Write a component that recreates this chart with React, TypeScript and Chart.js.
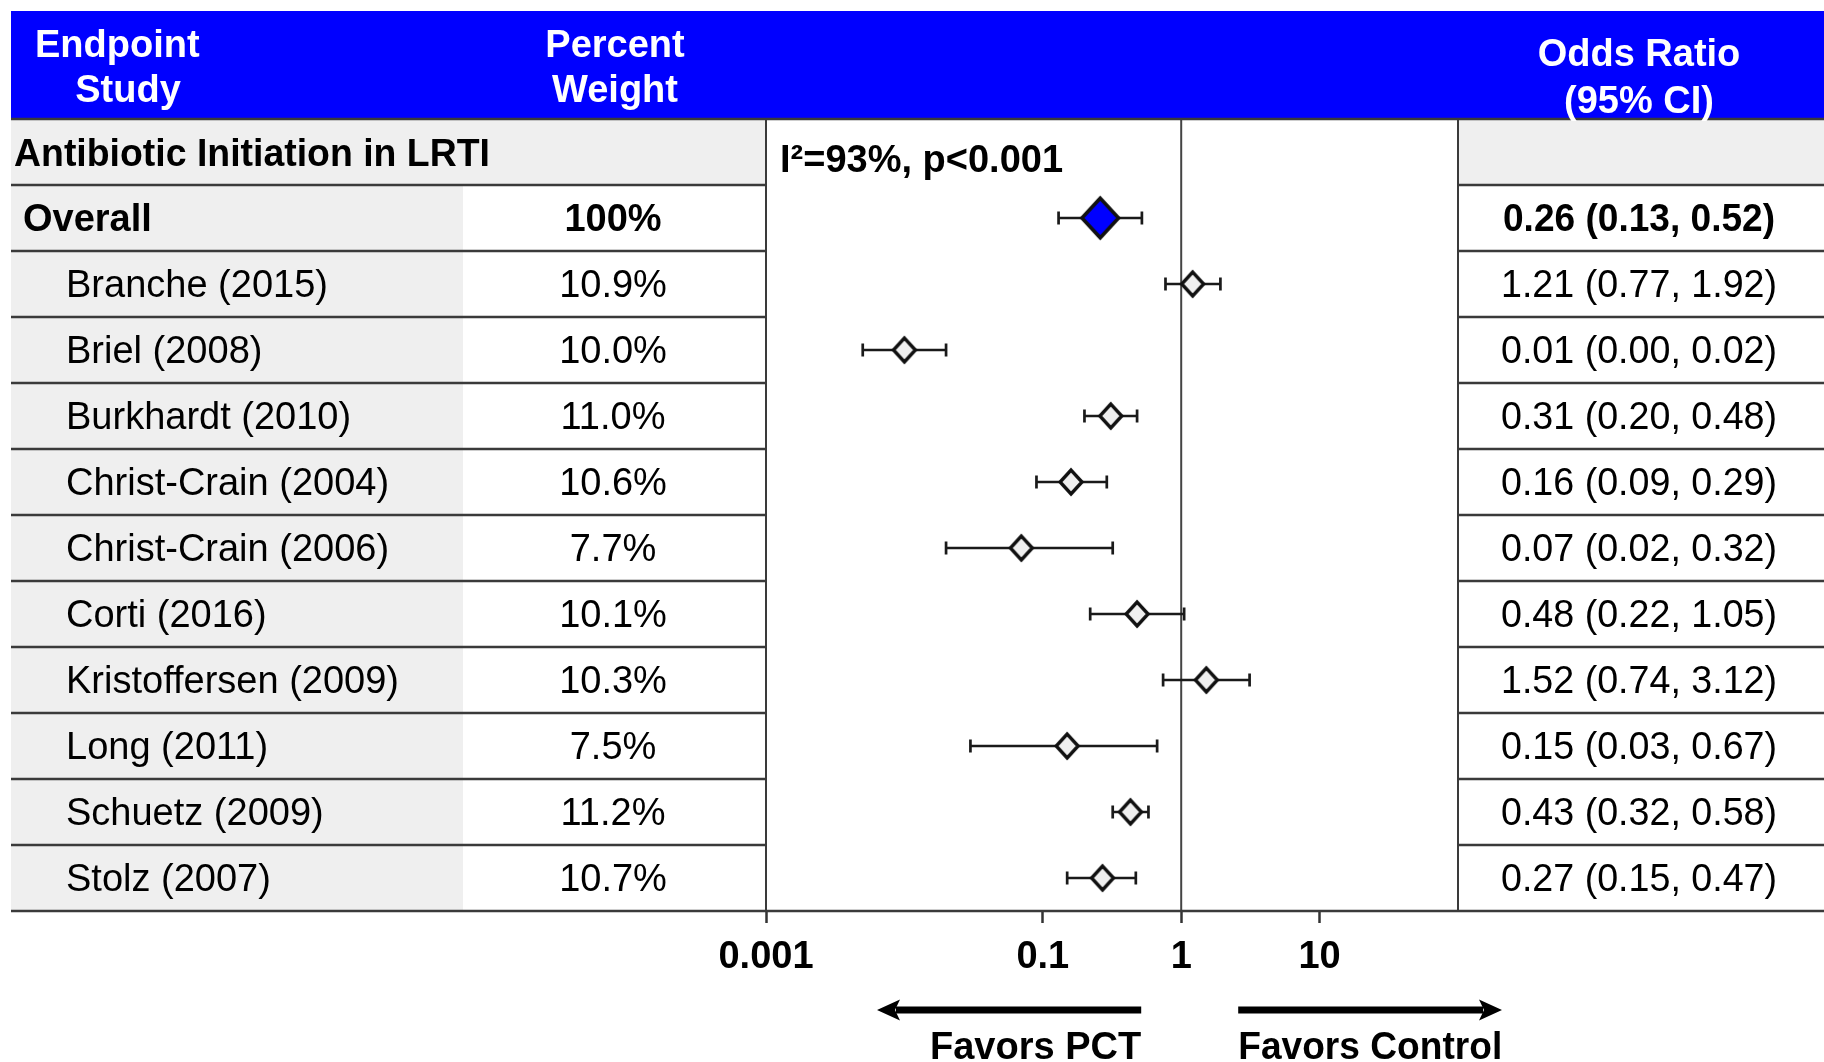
import React, { useEffect, useRef } from 'react';
import { Chart, registerables } from 'chart.js';

Chart.register(...registerables);

const FONT = "'Liberation Sans', Arial, Helvetica, sans-serif";

// ---- data ----
const headerStudy = ['Endpoint', 'Study'];
const headerWeight = ['Percent', 'Weight'];
const headerOR = ['Odds Ratio', '(95% CI)'];

const sectionTitle = 'Antibiotic Initiation in LRTI';
const heterogeneityText = 'I\u00B2=93%, p<0.001';

const overallLabel = 'Overall';
const overallWeight = '100%';
const overallOR = 0.26;
const overallLower = 0.13;
const overallUpper = 0.52;
const overallCI = '0.26 (0.13, 0.52)';

const studyNames = [
  'Branche (2015)',
  'Briel (2008)',
  'Burkhardt (2010)',
  'Christ-Crain (2004)',
  'Christ-Crain (2006)',
  'Corti (2016)',
  'Kristoffersen (2009)',
  'Long (2011)',
  'Schuetz (2009)',
  'Stolz (2007)',
];
const studyWeights = ['10.9%', '10.0%', '11.0%', '10.6%', '7.7%', '10.1%', '10.3%', '7.5%', '11.2%', '10.7%'];
const oddsRatios = [1.21, 0.01, 0.31, 0.16, 0.07, 0.48, 1.52, 0.15, 0.43, 0.27];
const ciLower = [0.77, 0.005, 0.2, 0.09, 0.02, 0.22, 0.74, 0.03, 0.32, 0.15];
const ciUpper = [1.92, 0.02, 0.48, 0.29, 0.32, 1.05, 3.12, 0.67, 0.58, 0.47];
const ciLabels = [
  '1.21 (0.77, 1.92)',
  '0.01 (0.00, 0.02)',
  '0.31 (0.20, 0.48)',
  '0.16 (0.09, 0.29)',
  '0.07 (0.02, 0.32)',
  '0.48 (0.22, 1.05)',
  '1.52 (0.74, 3.12)',
  '0.15 (0.03, 0.67)',
  '0.43 (0.32, 0.58)',
  '0.27 (0.15, 0.47)',
];

const tickValues = [0.001, 0.1, 1, 10];
const tickLabels = ['0.001', '0.1', '1', '10'];
const axisMin = 0.001;
const axisMax = 100;
const referenceValue = 1;
const favorsLeft = 'Favors PCT';
const favorsRight = 'Favors Control';

// ---- styles / layout ----
const W = 1824;
const H = 1062;
const BLUE = '#0000FF';
const GRAY = '#efefef';
const LINE = '#3a3a3a';
const TABLE_LEFT = 11;
const HEADER_TOP = 11;
const STUDY_COL_RIGHT = 463;
const WEIGHT_CENTER = 613;
const OR_CENTER = 1639;
const NROWS = 12;

function makeDiamond(w: number, h: number, fill: string, stroke: string, lw: number) {
  const c = document.createElement('canvas');
  c.width = w;
  c.height = h;
  const g = c.getContext('2d')!;
  const p = lw * 0.75 + 0.5;
  g.beginPath();
  g.moveTo(w / 2, p);
  g.lineTo(w - p, h / 2);
  g.lineTo(w / 2, h - p);
  g.lineTo(p, h / 2);
  g.closePath();
  g.fillStyle = fill;
  g.fill();
  g.lineWidth = lw;
  g.strokeStyle = stroke;
  g.lineJoin = 'miter';
  g.stroke();
  return c;
}

function font(size: number, bold: boolean) {
  return `${bold ? 'bold ' : ''}${size}px ${FONT}`;
}

function drawArrow(ctx: CanvasRenderingContext2D, tail: number, tip: number, y: number) {
  const dir = tip > tail ? 1 : -1;
  const headLen = 23;
  const headHalf = 10.5;
  ctx.save();
  ctx.strokeStyle = '#000';
  ctx.fillStyle = '#000';
  ctx.lineWidth = 7;
  ctx.beginPath();
  ctx.moveTo(tail, y);
  ctx.lineTo(tip - dir * (headLen - 4), y);
  ctx.stroke();
  ctx.beginPath();
  ctx.moveTo(tip, y);
  ctx.lineTo(tip - dir * headLen, y - headHalf);
  ctx.lineTo(tip - dir * (headLen - 5), y);
  ctx.lineTo(tip - dir * headLen, y + headHalf);
  ctx.closePath();
  ctx.fill();
  ctx.restore();
}

const forestPlugin = {
  id: 'forestTable',
  beforeDraw(chart: any) {
    const ctx: CanvasRenderingContext2D = chart.ctx;
    const { left, right, top } = chart.chartArea;
    const ys = chart.scales.y;
    const r0 = ys.getPixelForValue(0);
    const r1 = ys.getPixelForValue(1);
    const rEnd = ys.getPixelForValue(NROWS);
    ctx.save();
    ctx.fillStyle = '#ffffff';
    ctx.fillRect(0, 0, chart.width, chart.height);
    ctx.fillStyle = BLUE;
    ctx.fillRect(TABLE_LEFT, HEADER_TOP, chart.width - TABLE_LEFT, top - HEADER_TOP);
    ctx.fillStyle = GRAY;
    ctx.fillRect(TABLE_LEFT, r0, left - TABLE_LEFT, r1 - r0);
    ctx.fillRect(right, r0, chart.width - right, r1 - r0);
    ctx.fillRect(TABLE_LEFT, r1, STUDY_COL_RIGHT - TABLE_LEFT, rEnd - r1);
    ctx.restore();
  },
  beforeDatasetsDraw(chart: any) {
    const ctx: CanvasRenderingContext2D = chart.ctx;
    const xs = chart.scales.x;
    const ys = chart.scales.y;
    const { top, bottom } = chart.chartArea;
    ctx.save();
    // reference line at OR = 1
    const xr = xs.getPixelForValue(referenceValue);
    ctx.strokeStyle = '#444';
    ctx.lineWidth = 2;
    ctx.beginPath();
    ctx.moveTo(xr, top);
    ctx.lineTo(xr, bottom);
    ctx.stroke();
    // CI whiskers
    const lows = [overallLower, ...ciLower];
    const highs = [overallUpper, ...ciUpper];
    ctx.strokeStyle = '#1a1a1a';
    ctx.lineWidth = 2.7;
    for (let i = 0; i < lows.length; i++) {
      const y = ys.getPixelForValue(i + 1.5);
      const x1 = xs.getPixelForValue(lows[i]);
      const x2 = xs.getPixelForValue(highs[i]);
      ctx.beginPath();
      ctx.moveTo(x1, y);
      ctx.lineTo(x2, y);
      ctx.moveTo(x1, y - 6.5);
      ctx.lineTo(x1, y + 6.5);
      ctx.moveTo(x2, y - 6.5);
      ctx.lineTo(x2, y + 6.5);
      ctx.stroke();
    }
    ctx.restore();
  },
  afterDraw(chart: any) {
    const ctx: CanvasRenderingContext2D = chart.ctx;
    const xs = chart.scales.x;
    const ys = chart.scales.y;
    const { left, right, top, bottom } = chart.chartArea;
    const fullRight = chart.width;
    ctx.save();
    // table lines
    ctx.strokeStyle = LINE;
    ctx.lineWidth = 2.5;
    for (let k = 0; k <= NROWS; k++) {
      const y = ys.getPixelForValue(k);
      ctx.beginPath();
      if (k === 0 || k === NROWS) {
        ctx.moveTo(TABLE_LEFT, y);
        ctx.lineTo(fullRight, y);
      } else {
        ctx.moveTo(TABLE_LEFT, y);
        ctx.lineTo(left, y);
        ctx.moveTo(right, y);
        ctx.lineTo(fullRight, y);
      }
      ctx.stroke();
    }
    ctx.lineWidth = 2;
    ctx.beginPath();
    ctx.moveTo(left, top);
    ctx.lineTo(left, bottom);
    ctx.moveTo(right, top);
    ctx.lineTo(right, bottom);
    ctx.stroke();

    // header text
    ctx.fillStyle = '#ffffff';
    ctx.textBaseline = 'middle';
    ctx.font = font(38, true);
    ctx.textAlign = 'left';
    ctx.fillText(headerStudy[0], 35, 47);
    ctx.textAlign = 'center';
    ctx.fillText(headerStudy[1], 128, 92);
    ctx.fillText(headerWeight[0], WEIGHT_CENTER + 2, 47);
    ctx.fillText(headerWeight[1], WEIGHT_CENTER + 2, 92);
    ctx.fillText(headerOR[0], OR_CENTER, 56);
    ctx.fillText(headerOR[1], OR_CENTER, 103);

    // body text
    ctx.fillStyle = '#000';
    const rowY = (i: number) => ys.getPixelForValue(i + 0.5) + 3;
    ctx.textAlign = 'left';
    ctx.font = font(38, true);
    ctx.fillText(sectionTitle, 14, rowY(0) + 1, 476);
    ctx.fillText(heterogeneityText, 780, rowY(0) + 7);
    ctx.fillText(overallLabel, 23, rowY(1));
    ctx.textAlign = 'center';
    ctx.fillText(overallWeight, WEIGHT_CENTER, rowY(1));
    ctx.fillText(overallCI, OR_CENTER, rowY(1), 272);
    ctx.font = font(38, false);
    for (let i = 0; i < studyNames.length; i++) {
      const y = rowY(i + 2);
      ctx.textAlign = 'left';
      ctx.fillText(studyNames[i], 66, y);
      ctx.textAlign = 'center';
      ctx.fillText(studyWeights[i], WEIGHT_CENTER, y);
      ctx.fillText(ciLabels[i], OR_CENTER, y, 276);
    }

    // favors arrows & labels
    const xr = xs.getPixelForValue(referenceValue);
    const ay = bottom + 99;
    drawArrow(ctx, xr - 40, 877, ay);
    drawArrow(ctx, xr + 57, 1502, ay);
    ctx.font = font(38, true);
    ctx.textAlign = 'right';
    ctx.fillText(favorsLeft, xr - 40, ay + 39, 212);
    ctx.textAlign = 'left';
    ctx.fillText(favorsRight, xr + 57, ay + 39, 264);
    ctx.restore();
  },
};

export default function App() {
  const ref = useRef<HTMLCanvasElement | null>(null);

  useEffect(() => {
    document.body.style.margin = '0';
    document.body.style.overflow = 'hidden';
    const canvas = ref.current;
    if (!canvas) return;
    const studyDiamond = makeDiamond(28, 30, '#efefef', '#111', 3.4);
    const overallDiamond = makeDiamond(43, 46, BLUE, '#111', 3.6);

    const chart = new Chart(canvas, {
      type: 'scatter',
      data: {
        datasets: [
          {
            label: 'Studies',
            data: oddsRatios.map((v, i) => ({ x: v, y: i + 2.5 })),
            pointStyle: studyDiamond as any,
            pointRadius: 13,
            pointHoverRadius: 13,
          },
          {
            label: 'Overall',
            data: [{ x: overallOR, y: 1.5 }],
            pointStyle: overallDiamond as any,
            pointRadius: 21,
            pointHoverRadius: 21,
          },
        ],
      },
      options: {
        responsive: false,
        animation: false,
        devicePixelRatio: 1,
        events: [],
        layout: { padding: { left: 766, right: W - 1458, top: 119, bottom: 0 } },
        plugins: { legend: { display: false }, tooltip: { enabled: false } },
        scales: {
          x: {
            type: 'logarithmic',
            min: axisMin,
            max: axisMax,
            position: 'bottom',
            afterBuildTicks: (s: any) => {
              s.ticks = tickValues.map((v) => ({ value: v }));
            },
            afterFit: (s: any) => {
              s.height = H - 911;
            },
            ticks: {
              callback: (_v: any, idx: number) => tickLabels[idx],
              font: { family: FONT, size: 38, weight: 'bold' },
              color: '#000',
              padding: 12,
              maxRotation: 0,
              autoSkip: false,
            },
            grid: {
              drawOnChartArea: false,
              drawTicks: true,
              tickLength: 12,
              tickColor: '#333',
              tickWidth: 2.5,
            },
            border: { display: false },
          },
          y: { type: 'linear', min: 0, max: NROWS, reverse: true, display: false },
        },
      } as any,
      plugins: [forestPlugin],
    });
    return () => chart.destroy();
  }, []);

  return <canvas ref={ref} width={W} height={H} style={{ display: 'block', width: W, height: H }} />;
}
